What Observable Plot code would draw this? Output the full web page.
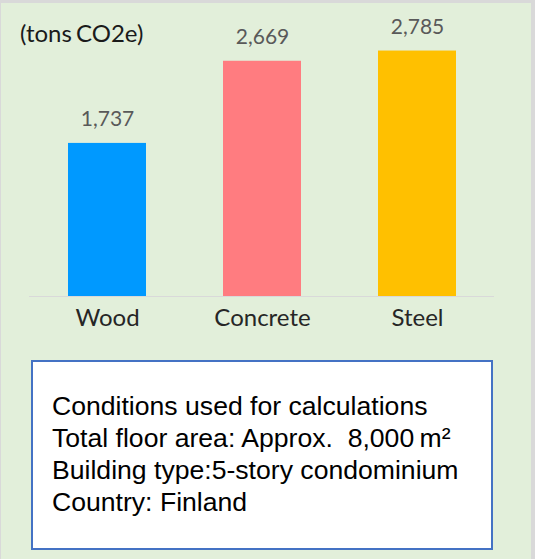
<!DOCTYPE html>
<html>
<head>
<meta charset="utf-8">
<script src="https://cdn.jsdelivr.net/npm/d3@7"></script>
<script src="https://cdn.jsdelivr.net/npm/@observablehq/plot@0.6"></script>
<style>
  html, body { margin: 0; padding: 0; }
  body { width: 535px; height: 559px; overflow: hidden; background: #d9d9d9; }
  #frame { position: absolute; left: 1px; top: 3px; width: 530px; height: 556px; background: #e2efda; }
  #chart { position: absolute; left: 0; top: 0; }
  #unit { position: absolute; left: 20px; top: 21px; font-family: Lato, sans-serif; font-size: 24px; line-height: 24px; color: #1a1a1a; white-space: pre; word-spacing: -2px; }
  #box { position: absolute; left: 31px; top: 360px; width: 458px; height: 186px; background: #fff; border: 2px solid #4472c4; }
  #cond { position: absolute; left: 19px; top: 28px; font-family: "Liberation Sans", Arial, sans-serif; font-size: 26.6px; line-height: 32px; color: #000; white-space: pre; }
</style>
</head>
<body>
<div id="frame"></div>
<div id="chart"></div>
<div id="unit">(tons CO2e)</div>
<div id="box"><div id="cond"></div></div>
<script>
const categories = ["Wood", "Concrete", "Steel"];
const values = [1737, 2669, 2785];
const colors = ["#0099ff", "#ff7c80", "#ffc000"];
const unitLabel = "(tons CO2e)";
const conditionLines = [
  "Conditions used for calculations",
  "Total floor area: Approx.  8,000\u2009m\u00b2",
  "Building type:5-story condominium",
  "Country: Finland"
];

const data = categories.map((c, i) => ({category: c, value: values[i], color: colors[i]}));

const chart = Plot.plot({
  width: 535,
  height: 340,
  marginLeft: 29,
  marginRight: 41,
  marginTop: 31.6,
  marginBottom: 44,
  style: {background: "transparent", fontFamily: "Lato, sans-serif"},
  x: {domain: categories, paddingInner: 0.5, paddingOuter: 0.25, label: null},
  y: {domain: [0, 3000], axis: null},
  marks: [
    Plot.barY(data, {x: "category", y: "value", fill: "color"}),
    Plot.ruleY([0], {stroke: "#d9d9d9", strokeWidth: 1}),
    Plot.text(data, {x: "category", y: "value", text: d => d3.format(",")(d.value), dy: -24, lineAnchor: "middle", fill: "#595959", fontSize: 21}),
    Plot.axisX({tickSize: 0, tickPadding: 12, fontSize: 24, fill: "#262626", label: null})
  ]
});
document.getElementById("chart").appendChild(chart);
document.getElementById("unit").textContent = unitLabel;
document.getElementById("cond").textContent = conditionLines.join("\n");
</script>
</body>
</html>
